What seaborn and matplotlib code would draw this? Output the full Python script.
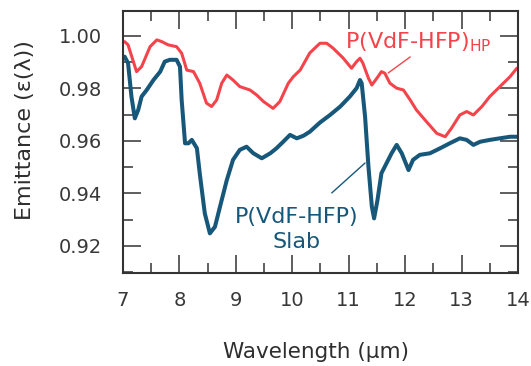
import numpy as np
import pandas as pd
import matplotlib
matplotlib.use("Agg")
import matplotlib.pyplot as plt
from matplotlib.ticker import MultipleLocator, FormatStrFormatter
import seaborn as sns

# Spectral emittance of the hierarchically porous film
wavelength_hp = [7.03, 7.09, 7.24, 7.33, 7.48, 7.60, 7.69, 7.80, 7.95, 8.04, 8.13, 8.25,
                 8.36, 8.48, 8.57, 8.66, 8.75, 8.84, 8.95, 9.07, 9.25, 9.37, 9.49, 9.66,
                 9.78, 9.93, 10.02, 10.14, 10.31, 10.49, 10.61, 10.72, 10.90, 11.05, 11.14,
                 11.20, 11.25, 11.35, 11.41, 11.50, 11.58, 11.64, 11.73, 11.85, 11.97,
                 12.09, 12.20, 12.38, 12.56, 12.71, 12.82, 12.97, 13.09, 13.21, 13.36,
                 13.50, 13.68, 13.86, 13.98]
emittance_hp = [0.9978, 0.9966, 0.9864, 0.9883, 0.9959, 0.9985, 0.9978, 0.9966, 0.9959,
                0.9934, 0.9870, 0.9864, 0.9820, 0.9744, 0.9731, 0.9756, 0.9820, 0.9851,
                0.9832, 0.9807, 0.9794, 0.9775, 0.9750, 0.9724, 0.9750, 0.9820, 0.9845,
                0.9870, 0.9935, 0.9972, 0.9972, 0.9954, 0.9916, 0.9877, 0.9902, 0.9915,
                0.9897, 0.9839, 0.9813, 0.9839, 0.9864, 0.9858, 0.9820, 0.9801, 0.9794,
                0.9756, 0.9718, 0.9673, 0.9629, 0.9616, 0.9648, 0.9699, 0.9712, 0.9699,
                0.9731, 0.9769, 0.9807, 0.9845, 0.9877]

# Spectral emittance of the solid slab
wavelength_slab = [7.03, 7.09, 7.15, 7.21, 7.27, 7.33, 7.42, 7.54, 7.66, 7.74, 7.83, 7.95,
                   8.01, 8.04, 8.10, 8.16, 8.22, 8.31, 8.36, 8.45, 8.54, 8.63, 8.72, 8.84,
                   8.95, 9.07, 9.19, 9.31, 9.46, 9.61, 9.72, 9.84, 9.96, 10.08, 10.20,
                   10.31, 10.49, 10.67, 10.85, 11.02, 11.14, 11.20, 11.23, 11.29, 11.35,
                   11.41, 11.45, 11.51, 11.58, 11.67, 11.76, 11.85, 11.94, 12.06, 12.14,
                   12.26, 12.44, 12.62, 12.79, 12.97, 13.09, 13.21, 13.33, 13.50, 13.68,
                   13.86, 13.98]
emittance_slab = [0.9921, 0.9896, 0.9769, 0.9686, 0.9718, 0.9769, 0.9794, 0.9832, 0.9864,
                  0.9902, 0.9909, 0.9909, 0.9883, 0.9756, 0.9591, 0.9591, 0.9604, 0.9572,
                  0.9477, 0.9324, 0.9248, 0.9273, 0.9350, 0.9451, 0.9528, 0.9566, 0.9578,
                  0.9553, 0.9534, 0.9553, 0.9572, 0.9597, 0.9623, 0.9610, 0.9620, 0.9635,
                  0.9670, 0.9699, 0.9731, 0.9769, 0.9801, 0.9832, 0.9820, 0.9693, 0.9502,
                  0.9350, 0.9305, 0.9375, 0.9477, 0.9515, 0.9553, 0.9585, 0.9553, 0.9489,
                  0.9528, 0.9547, 0.9553, 0.9572, 0.9591, 0.9610, 0.9604, 0.9585, 0.9597,
                  0.9604, 0.9610, 0.9616, 0.9616]

series_names = ["HP", "Slab"]
colors = {"HP": "#f3444b", "Slab": "#17587a"}
widths = {"HP": 2.2, "Slab": 2.9}

df = pd.concat([
    pd.DataFrame({"Wavelength": wavelength_hp, "Emittance": emittance_hp, "sample": "HP"}),
    pd.DataFrame({"Wavelength": wavelength_slab, "Emittance": emittance_slab, "sample": "Slab"}),
], ignore_index=True)

sns.set_theme(style="white")
plt.rcParams["font.family"] = ["DejaVu Sans"]

fig = plt.figure(figsize=(5.31, 3.66), dpi=100)
ax = fig.add_axes([0.2316, 0.2541, 0.9755 - 0.2316, 0.970 - 0.2541])

for name in series_names:
    sns.lineplot(data=df[df["sample"] == name], x="Wavelength", y="Emittance",
                 color=colors[name], lw=widths[name], sort=False, estimator=None,
                 ax=ax, legend=False)

ax.set_xlim(7, 14)
ax.set_ylim(0.9097, 1.0095)
ax.xaxis.set_major_locator(MultipleLocator(1))
ax.xaxis.set_minor_locator(MultipleLocator(0.5))
ax.yaxis.set_major_locator(MultipleLocator(0.02))
ax.yaxis.set_minor_locator(MultipleLocator(0.01))
ax.yaxis.set_major_formatter(FormatStrFormatter("%.2f"))

spine_col = "#333333"
for s in ax.spines.values():
    s.set_color(spine_col)
    s.set_linewidth(1.5)

ax.tick_params(which="both", direction="in", color=spine_col, width=1.1,
               bottom=True, left=True, top=True, right=True,
               labelcolor="#383838", labelsize=14)
ax.tick_params(axis="x", which="major", length=13, pad=13)
ax.tick_params(axis="x", which="minor", length=7)
ax.tick_params(axis="y", which="major", length=13, pad=15)
ax.tick_params(axis="y", which="minor", length=7)
ax.tick_params(axis="x", which="both", top=True, labeltop=False)

ax.set_xlabel("Wavelength (\u03bcm)", fontsize=15.5, color="#2e2e2e")
ax.set_ylabel("Emittance (\u03b5(\u03bb))", fontsize=16, color="#2e2e2e")
ax.xaxis.set_label_coords(0.489, -0.262)
ax.yaxis.set_label_coords(-0.223, 0.546)

# Curve labels with leader lines
ax.text(10.93, 0.9954, "P(VdF-HFP)$_\\mathregular{HP}$", color=colors["HP"],
        fontsize=16, ha="left", va="baseline")
ax.plot([12.09, 11.70], [0.9920, 0.9859], color=colors["HP"], lw=1.0)

ax.text(10.07, 0.9288, "P(VdF-HFP)", color=colors["Slab"], fontsize=16,
        ha="center", va="baseline")
ax.text(10.07, 0.9193, "Slab", color=colors["Slab"], fontsize=16,
        ha="center", va="baseline")
ax.plot([10.70, 11.29], [0.9402, 0.9516], color=colors["Slab"], lw=1.0)

fig.savefig("out.png", dpi=100)
